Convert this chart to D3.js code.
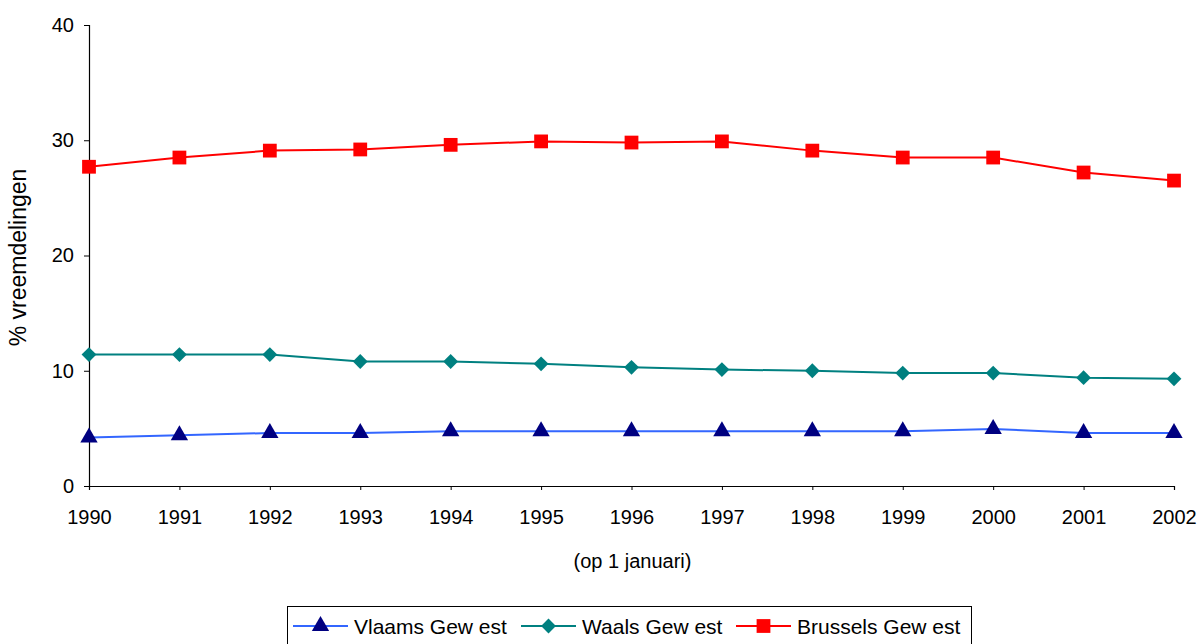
<!doctype html>
<html lang="nl">
<head>
<meta charset="utf-8">
<script src="https://d3js.org/d3.v7.min.js"></script>
<style>
  body { margin: 0; background: #fff; }
  svg text { font-family: "Liberation Sans", Arial, sans-serif; fill: #000; }
</style>
</head>
<body>
<div id="chart"></div>
<script>
// data
var years = [1990, 1991, 1992, 1993, 1994, 1995, 1996, 1997, 1998, 1999, 2000, 2001, 2002];
var vlaams = [4.2, 4.4, 4.6, 4.6, 4.75, 4.75, 4.75, 4.75, 4.75, 4.75, 4.95, 4.6, 4.6];
var waals = [11.4, 11.4, 11.4, 10.8, 10.8, 10.6, 10.3, 10.1, 10.0, 9.8, 9.8, 9.4, 9.3];
var brussels = [27.7, 28.5, 29.1, 29.2, 29.6, 29.9, 29.8, 29.9, 29.1, 28.5, 28.5, 27.2, 26.5];
var yTicks = [0, 10, 20, 30, 40];
var seriesNames = ["Vlaams Gew est", "Waals Gew est", "Brussels Gew est"];

var W = 1199, H = 644;
var margin = {top: 25, left: 89};

var svg = d3.select("#chart").append("svg")
    .attr("width", W).attr("height", H);
var g = svg.append("g")
    .attr("transform", "translate(" + margin.left + "," + margin.top + ")");

var x = d3.scaleLinear().domain([1990, 2002]).range([0, 1085]);
var y = d3.scaleLinear().domain([0, 40]).range([461, 0]);

// axes
var yAxis = g.append("g")
    .call(d3.axisLeft(y).tickValues(yTicks).tickSize(5).tickPadding(10));
yAxis.attr("font-size", 20);

var xAxis = g.append("g")
    .attr("transform", "translate(0," + y(0) + ")")
    .call(d3.axisBottom(x).tickValues(years).tickFormat(d3.format("d")).tickSize(4).tickPadding(20));
xAxis.attr("font-size", 20);
g.selectAll(".domain").attr("stroke", "#000").attr("stroke-width", 1.2);
g.selectAll(".tick line").attr("stroke", "#000");

// axis titles
g.append("text")
    .attr("transform", "translate(-63," + (y(20) + 2) + ") rotate(-90)")
    .attr("text-anchor", "middle")
    .attr("font-size", 23)
    .text("% vreemdelingen");
g.append("text")
    .attr("x", x(1996) + 1).attr("y", 543)
    .attr("text-anchor", "middle")
    .attr("font-size", 20)
    .text("(op 1 januari)");

var series = [
  {name: seriesNames[0], values: vlaams, line: "#3366ff", fill: "#000080", shape: d3.symbolTriangle, size: 130, rot: 0},
  {name: seriesNames[1], values: waals, line: "#008080", fill: "#008080", shape: d3.symbolSquare, size: 110, rot: 45},
  {name: seriesNames[2], values: brussels, line: "#ff0000", fill: "#ff0000", shape: d3.symbolSquare, size: 190, rot: 0}
];

var line = d3.line()
    .x(function(d, i) { return x(years[i]); })
    .y(function(d) { return y(d); });

series.forEach(function(s) {
  g.append("path")
    .datum(s.values)
    .attr("fill", "none")
    .attr("stroke", s.line)
    .attr("stroke-width", 2)
    .attr("d", line);
  g.selectAll(null)
    .data(s.values)
    .enter().append("path")
    .attr("transform", function(d, i) {
      return "translate(" + x(years[i]) + "," + y(d) + ") rotate(" + s.rot + ")";
    })
    .attr("d", d3.symbol().type(s.shape).size(s.size))
    .attr("fill", s.fill);
});

// legend
var legend = svg.append("g");
legend.append("rect")
    .attr("x", 287.5).attr("y", 606.5)
    .attr("width", 684).attr("height", 44)
    .attr("fill", "#fff").attr("stroke", "#000");
var legendX = [293, 521, 736];
series.forEach(function(s, i) {
  var lx = legendX[i], ly = 626;
  legend.append("line")
    .attr("x1", lx).attr("x2", lx + 55)
    .attr("y1", ly).attr("y2", ly)
    .attr("stroke", s.line).attr("stroke-width", 2);
  legend.append("path")
    .attr("transform", "translate(" + (lx + 27.5) + "," + ly + ") rotate(" + s.rot + ")")
    .attr("d", d3.symbol().type(s.shape).size(s.size))
    .attr("fill", s.fill);
  legend.append("text")
    .attr("x", lx + 61).attr("y", ly + 8)
    .attr("font-size", 21)
    .text(s.name);
});
</script>
</body>
</html>
